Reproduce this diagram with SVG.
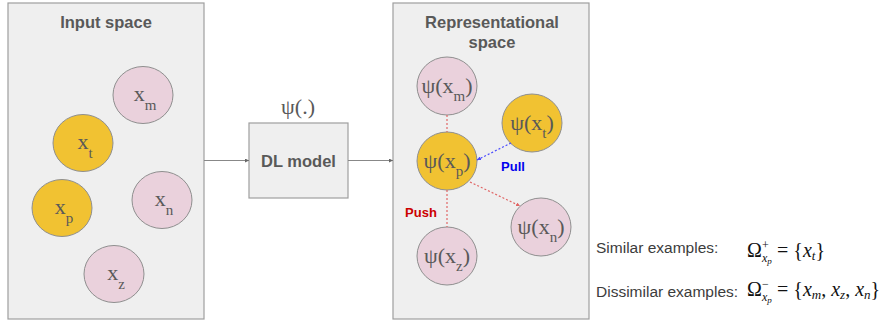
<svg xmlns="http://www.w3.org/2000/svg" width="885" height="323" viewBox="0 0 885 323">
<style>
.panel{fill:#efefef;stroke:#9e9e9e;stroke-width:1.2}
.title{font-family:"Liberation Sans",Arial,sans-serif;font-weight:bold;font-size:16.5px;fill:#595959;text-anchor:middle}
.pink{fill:#ead1dc;stroke:#8f8f8f;stroke-width:1}
.gold{fill:#f1c232;stroke:#8f8f8f;stroke-width:1}
.lbl{font-family:"Liberation Serif","Times New Roman",serif;font-size:22px;fill:#595959;text-anchor:middle}
.sub{font-size:15px}
.conn{stroke:#888;stroke-width:1;fill:none}
.push{stroke:#e06666;stroke-width:1.2;stroke-dasharray:2,2;fill:none}
.pull{stroke:#4a4aff;stroke-width:1.2;stroke-dasharray:2,2;fill:none}
.leg{font-family:"Liberation Sans",Arial,sans-serif;font-size:15.5px;fill:#3c3c3c}
.math{font-family:"Liberation Serif","Times New Roman",serif;font-size:20px;fill:#111}
.mi{font-style:italic}
</style>
<defs>
<marker id="ag" viewBox="0 0 4 4" refX="4" refY="2" markerUnits="userSpaceOnUse" markerWidth="4" markerHeight="4" orient="auto"><path d="M0,0L4,2L0,4z" fill="#666"/></marker>
<marker id="ar" viewBox="0 0 4 4" refX="4" refY="2" markerUnits="userSpaceOnUse" markerWidth="4" markerHeight="4" orient="auto"><path d="M0,0L4,2L0,4z" fill="#e06666"/></marker>
<marker id="ab" viewBox="0 0 4 4" refX="4" refY="2" markerUnits="userSpaceOnUse" markerWidth="4" markerHeight="4" orient="auto"><path d="M0,0L4,2L0,4z" fill="#4a4aff"/></marker>
</defs>

<g id="input-space">
<rect class="panel" x="8" y="3" width="196" height="316"/>
<text class="title" x="106" y="28">Input space</text>
</g>
<g id="x_m"><ellipse class="pink" cx="143" cy="95" rx="30" ry="28.5"/><text class="lbl" x="145" y="101">x<tspan class="sub" dy="9">m</tspan></text></g>
<g id="x_t"><ellipse class="gold" cx="83" cy="143" rx="30" ry="28.5"/><text class="lbl" x="85" y="149">x<tspan class="sub" dy="9">t</tspan></text></g>
<g id="x_p"><ellipse class="gold" cx="62" cy="208" rx="30" ry="28.5"/><text class="lbl" x="64" y="214">x<tspan class="sub" dy="9">p</tspan></text></g>
<g id="x_n"><ellipse class="pink" cx="162" cy="200" rx="30" ry="28.5"/><text class="lbl" x="164" y="206">x<tspan class="sub" dy="9">n</tspan></text></g>
<g id="x_z"><ellipse class="pink" cx="114" cy="274" rx="30" ry="28.5"/><text class="lbl" x="116" y="280">x<tspan class="sub" dy="9">z</tspan></text></g>

<g id="dl-model">
<rect x="249" y="123" width="99" height="75" fill="#efefef" stroke="#9e9e9e" stroke-width="1.2"/>
<text class="title" x="298.5" y="167">DL model</text>
<text class="lbl" x="298" y="114" font-size="22">ψ(.)</text>
</g>

<g id="rep-space">
<rect class="panel" x="393" y="3" width="196" height="316"/>
<text class="title" x="492" y="28">Representational</text>
<text class="title" x="492" y="48">space</text>
</g>
<g id="psi_m"><ellipse class="pink" cx="447" cy="86" rx="30" ry="29"/><text class="lbl" x="447" y="93">ψ(x<tspan class="sub" dy="8">m</tspan><tspan dy="-8">)</tspan></text></g>
<g id="psi_t"><ellipse class="gold" cx="532" cy="123" rx="30" ry="29"/><text class="lbl" x="532" y="130">ψ(x<tspan class="sub" dy="8">t</tspan><tspan dy="-8">)</tspan></text></g>
<g id="psi_p"><ellipse class="gold" cx="447" cy="161" rx="30" ry="29"/><text class="lbl" x="447" y="168">ψ(x<tspan class="sub" dy="8">p</tspan><tspan dy="-8">)</tspan></text></g>
<g id="psi_n"><ellipse class="pink" cx="541" cy="227" rx="30" ry="29"/><text class="lbl" x="541" y="234">ψ(x<tspan class="sub" dy="8">n</tspan><tspan dy="-8">)</tspan></text></g>
<g id="psi_z"><ellipse class="pink" cx="447" cy="256" rx="30" ry="29"/><text class="lbl" x="447" y="263">ψ(x<tspan class="sub" dy="8">z</tspan><tspan dy="-8">)</tspan></text></g>

<g id="connectors">
<line class="conn" x1="204" y1="160.5" x2="249" y2="160.5" marker-end="url(#ag)"/>
<line class="conn" x1="348" y1="160.5" x2="393" y2="160.5" marker-end="url(#ag)"/>
<line class="push" x1="447" y1="115" x2="447" y2="132"/>
<line class="push" x1="447" y1="190" x2="447" y2="227"/>
<line class="push" x1="470" y1="182" x2="520" y2="206" marker-end="url(#ar)"/>
<line class="pull" x1="511" y1="143" x2="477" y2="160" marker-end="url(#ab)"/>
<text x="513" y="171" font-family="Liberation Sans,Arial,sans-serif" font-weight="bold" font-size="13" fill="#0000ee" text-anchor="middle">Pull</text>
<text x="421" y="217" font-family="Liberation Sans,Arial,sans-serif" font-weight="bold" font-size="13" fill="#cc0000" text-anchor="middle">Push</text>
</g>

<g id="legend">
<text class="leg" x="596" y="253">Similar examples:</text>
<text class="leg" x="596" y="297">Dissimilar examples:</text>
<text class="math" x="747" y="257">Ω<tspan font-size="12" x="762" dy="-8">+</tspan><tspan class="mi" font-size="12" x="762" dy="13">x</tspan><tspan class="mi" font-size="9" dy="2">p</tspan><tspan x="777" dy="-7">=</tspan><tspan dx="5">{</tspan><tspan class="mi">x</tspan><tspan class="mi" font-size="13" dy="3">t</tspan><tspan dy="-3">}</tspan></text>
<text class="math" x="747" y="296">Ω<tspan font-size="12" x="762" dy="-8">−</tspan><tspan class="mi" font-size="12" x="762" dy="13">x</tspan><tspan class="mi" font-size="9" dy="2">p</tspan><tspan x="777" dy="-7">=</tspan><tspan dx="5">{</tspan><tspan class="mi">x</tspan><tspan class="mi" font-size="13" dy="3">m</tspan><tspan dy="-3">,</tspan><tspan class="mi" dx="5">x</tspan><tspan class="mi" font-size="13" dy="3">z</tspan><tspan dy="-3">,</tspan><tspan class="mi" dx="5">x</tspan><tspan class="mi" font-size="13" dy="3">n</tspan><tspan dy="-3">}</tspan></text>
</g>
</svg>
